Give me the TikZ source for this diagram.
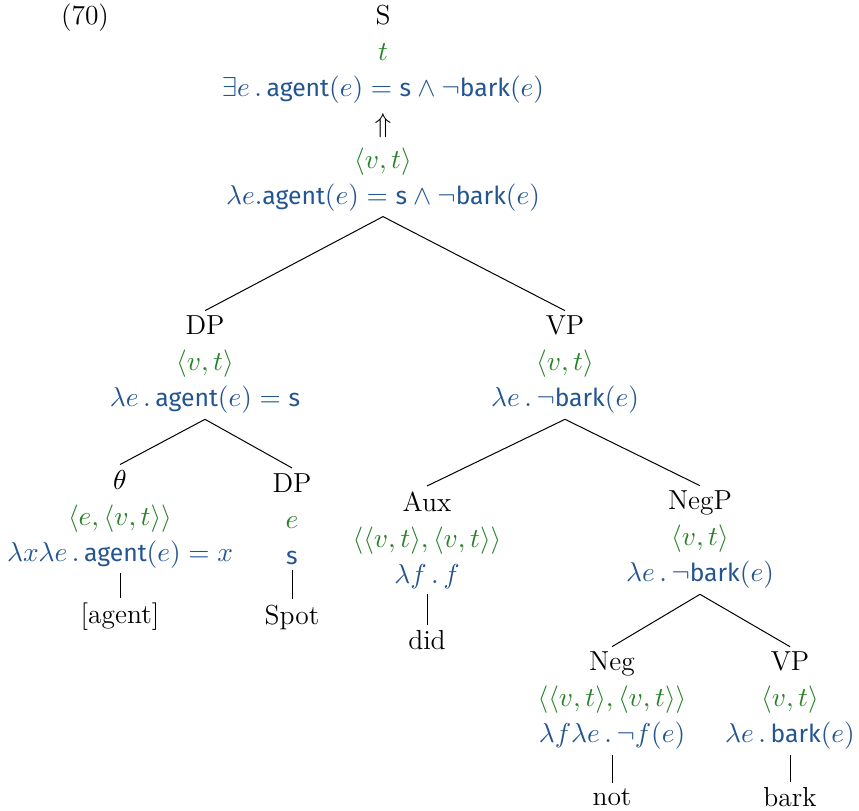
\documentclass[tikz,border=0pt]{standalone}
\usepackage{amsmath}
\usepackage{fontspec}
\setsansfont{Fira Sans}[Scale=0.9]
\usepackage{xcolor}
\usepackage{tikz}
\usetikzlibrary{positioning}
\definecolor{tgreen}{RGB}{40,130,40}
\definecolor{dblue}{RGB}{35,85,145}
\newcommand{\semtype}[1]{\textcolor{tgreen}{$#1$}}
\newcommand{\semval}[1]{\textcolor{dblue}{$#1$}}
\newcommand{\sfw}[1]{\textsf{#1}}

\begin{document}
\begin{tikzpicture}[x=0.4pt, y=-0.4pt,
    tnode/.style={align=center, inner sep=2pt, font=\fontsize{11}{14.4}\selectfont},
    leaf/.style={inner sep=2pt, font=\fontsize{11}{13}\selectfont},
    br/.style={black, line width=0.4pt}]
\useasboundingbox (0,0) rectangle (859,811);
\node[leaf] (ex) at (85,18) {(70)};
% root
\node[tnode] (s) at (383,108) {S\\ \semtype{t}\\
  \semval{\exists e\,.\,\sfw{agent}(e)=\sfw{s}\wedge\neg\sfw{bark}(e)}\\
  $\Uparrow$\\ \semtype{\langle v,t\rangle}\\
  \semval{\lambda e.\sfw{agent}(e)=\sfw{s}\wedge\neg\sfw{bark}(e)}};
% subject
\node[tnode] (dp) at (205,365) {DP\\ \semtype{\langle v,t\rangle}\\
  \semval{\lambda e\,.\,\sfw{agent}(e)=\sfw{s}}};
\node[tnode] (th) at (120,519) {$\theta$\\ \semtype{\langle e,\langle v,t\rangle\rangle}\\
  \semval{\lambda x\lambda e\,.\,\sfw{agent}(e)=x}};
\node[tnode] (dps) at (292,519) {DP\\ \semtype{e}\\ \semval{\sfw{s}}};
\node[leaf] (ag) at (120,617) {[agent]};
\node[leaf] (sp) at (292,617) {Spot};
% predicate
\node[tnode] (vp) at (565,365) {VP\\ \semtype{\langle v,t\rangle}\\
  \semval{\lambda e\,.\,\neg\sfw{bark}(e)}};
\node[tnode] (aux) at (427,540) {Aux\\ \semtype{\langle\langle v,t\rangle,\langle v,t\rangle\rangle}\\
  \semval{\lambda f\,.\,f}};
\node[leaf] (did) at (427,640) {did};
\node[tnode] (negp) at (700,540) {NegP\\ \semtype{\langle v,t\rangle}\\
  \semval{\lambda e\,.\,\neg\sfw{bark}(e)}};
\node[tnode] (neg) at (612,701) {Neg\\ \semtype{\langle\langle v,t\rangle,\langle v,t\rangle\rangle}\\
  \semval{\lambda f\lambda e\,.\,\neg f(e)}};
\node[tnode] (vpb) at (790,701) {VP\\ \semtype{\langle v,t\rangle}\\
  \semval{\lambda e\,.\,\sfw{bark}(e)}};
\node[leaf] (nt) at (612,797) {not};
\node[leaf] (bk) at (790,797) {bark};
% branches
\draw[br] (s.south) -- (dp.north);
\draw[br] (s.south) -- (vp.north);
\draw[br] (dp.south) -- (th.north);
\draw[br] (dp.south) -- (dps.north);
\draw[br] (th.south) -- (ag.north);
\draw[br] (dps.south) -- (sp.north);
\draw[br] (vp.south) -- (aux.north);
\draw[br] (vp.south) -- (negp.north);
\draw[br] (aux.south) -- (did.north);
\draw[br] (negp.south) -- (neg.north);
\draw[br] (negp.south) -- (vpb.north);
\draw[br] (neg.south) -- (nt.north);
\draw[br] (vpb.south) -- (bk.north);
\end{tikzpicture}
\end{document}
